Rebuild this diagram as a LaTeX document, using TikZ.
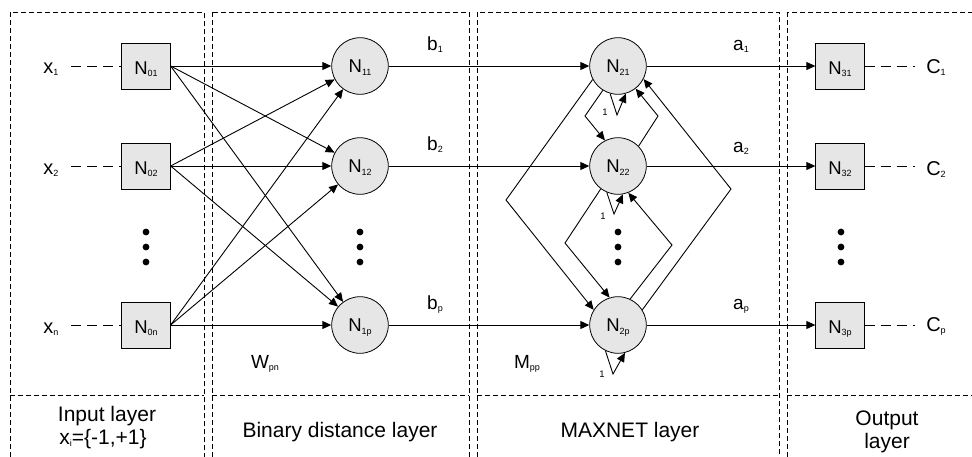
\documentclass[tikz,border=0pt]{standalone}
\usepackage{fontspec}
\setmainfont{Liberation Sans}
\usetikzlibrary{arrows.meta}
\definecolor{nodegray}{RGB}{230,230,230}
\newcommand{\lsub}[1]{\raisebox{-2.5pt}{\fontsize{9}{10}\selectfont #1}}
\begin{document}
\begin{tikzpicture}[x=1pt,y=-1pt,
  sq/.style={draw, fill=nodegray, minimum width=48.5pt, minimum height=46pt, inner sep=0pt, line width=0.8pt, font=\fontsize{18.5}{20}\selectfont, text height=16pt, text depth=0pt},
  neuron/.style={circle, draw, fill=nodegray, minimum size=56.6pt, inner sep=0pt, line width=0.8pt, font=\fontsize{18.5}{20}\selectfont, text height=13.4pt, text depth=0pt},
  arr/.style={-{Triangle[length=9pt,width=8pt]}, line width=0.9pt},
  lbl/.style={anchor=base, inner sep=0pt, font=\fontsize{20}{22}\selectfont},
  wlbl/.style={anchor=base, inner sep=0pt, font=\fontsize{19}{22}\selectfont},
  one/.style={anchor=base, inner sep=0pt, font=\fontsize{9.5}{11}\selectfont},
  layertxt/.style={anchor=base, inner sep=0pt, font=\fontsize{21}{24}\selectfont},
  layerbox/.style={line width=0.8pt, dash pattern=on 5pt off 3pt},
  inline/.style={line width=0.9pt, dash pattern=on 10pt off 6pt},
  dot/.style={circle, fill=black, inner sep=0pt, minimum size=6.8pt}]
\useasboundingbox (0,0) rectangle (972,456);
\clip (0,0) rectangle (972,456);

% layer boxes
\draw[layerbox] (10,12) rectangle (204,470);
\draw[layerbox] (10,395) -- (204,395);
\draw[layerbox] (212,12) rectangle (469,470);
\draw[layerbox] (212,395) -- (469,395);
\draw[layerbox] (477,12) rectangle (779,470);
\draw[layerbox] (477,395) -- (779,395);
\draw[layerbox] (787,12) rectangle (990,470);
\draw[layerbox] (787,395) -- (990,395);

% input layer
\node[sq] (n01) at (146,66) {N\lsub{01}};
\node[sq] (n02) at (146,166) {N\lsub{02}};
\node[sq] (n0n) at (146,325) {N\lsub{0n}};
\node[lbl] (x1) at (51,73) {x\lsub{1}};
\node[lbl] (x2) at (51,174) {x\lsub{2}};
\node[lbl] (xn) at (51,333) {x\lsub{n}};
\draw[inline] (71,66) -- (n01.west) ;
\draw[inline] (71,166) -- (n02.west);
\draw[inline] (71,325) -- (n0n.west);

% binary distance layer
\node[neuron] (n11) at (360,66) {N\lsub{11}};
\node[neuron] (n12) at (360,166) {N\lsub{12}};
\node[neuron] (n1p) at (360,325) {N\lsub{1p}};

% maxnet layer
\node[neuron] (n21) at (618,66) {N\lsub{21}};
\node[neuron] (n22) at (618,166) {N\lsub{22}};
\node[neuron] (n2p) at (618,325) {N\lsub{2p}};

% output layer
\node[sq] (n31) at (840,66) {N\lsub{31}};
\node[sq] (n32) at (840,166) {N\lsub{32}};
\node[sq] (n3p) at (840,325) {N\lsub{3p}};
\node[lbl] (c1) at (936,73) {C\lsub{1}};
\node[lbl] (c2) at (936,175) {C\lsub{2}};
\node[lbl] (cp) at (936,331) {C\lsub{p}};
\draw[inline] (n31.east) -- (915,66);
\draw[inline] (n32.east) -- (915,166);
\draw[inline] (n3p.east) -- (915,325);

% dots
\foreach \xx/\nm in {146/a,360/b,618/c,841/d}{
  \node[dot] (dot\nm1) at (\xx,232) {};
  \node[dot] (dot\nm2) at (\xx,247) {};
  \node[dot] (dot\nm3) at (\xx,262) {};
}

% input -> binary
\foreach \s in {n01,n02,n0n}
  \foreach \t in {n11,n12,n1p}
    \draw[arr] (\s.east) -- (\t);

% binary -> maxnet -> output
\draw[arr] (n11) -- (n21);
\draw[arr] (n12) -- (n22);
\draw[arr] (n1p) -- (n2p);
\draw[arr] (n21) -- (n31);
\draw[arr] (n22) -- (n32);
\draw[arr] (n2p) -- (n3p);

% maxnet lateral connections
\coordinate (obl) at (506,200);
\coordinate (obr) at (731,189);
\coordinate (ibl1) at (585,116);
\coordinate (ibr1) at (658,116);
\coordinate (ibl2) at (565,243);
\coordinate (ibr2) at (672,245);
\draw[arr] (n21.208) -- (obl) -- (n2p.148);
\draw[arr] (n2p.32) -- (obr) -- (n21.333);
\draw[arr] (n21.238) -- (ibl1) -- (n22.117);
\draw[arr] (n22.44) -- (ibr1) -- (n21.308);
\draw[arr] (n22.233) -- (ibl2) -- (n2p.107);
\draw[arr] (n2p.65) -- (ibr2) -- (n22.291);

% self loops
\coordinate (s1) at (617,115);
\coordinate (s2) at (614,214);
\coordinate (s3) at (613,374);
\draw[arr] (n21.254) -- (s1) -- (n21.286);
\draw[arr] (n22.247) -- (s2) -- (n22.280);
\draw[arr] (n2p.244) -- (s3) -- (n2p.284);
\node[one] (one1) at (605,115) {1};
\node[one] (one2) at (603,219) {1};
\node[one] (one3) at (602,377) {1};

% signal labels
\node[wlbl] (b1) at (435,50) {b\lsub{1}};
\node[wlbl] (b2) at (435,150) {b\lsub{2}};
\node[wlbl] (bp) at (435,309) {b\lsub{p}};
\node[wlbl] (a1) at (741,50) {a\lsub{1}};
\node[wlbl] (a2) at (741,152) {a\lsub{2}};
\node[wlbl] (ap) at (741,309) {a\lsub{p}};
\node[wlbl] (wpn) at (265,368) {W\lsub{pn}};
\node[wlbl] (mpp) at (527,368) {M\lsub{pp}};

% layer names
\node[layertxt] (t1a) at (107,421) {Input layer};
\node[layertxt] (t1b) at (103,444) {x\lsub{i}=\{-1,+1\}};
\node[layertxt] (t2) at (340,437) {Binary distance layer};
\node[layertxt] (t3) at (630,437) {MAXNET layer};
\node[layertxt] (t4a) at (887,425) {Output};
\node[layertxt] (t4b) at (887,448) {layer};
\end{tikzpicture}
\end{document}
